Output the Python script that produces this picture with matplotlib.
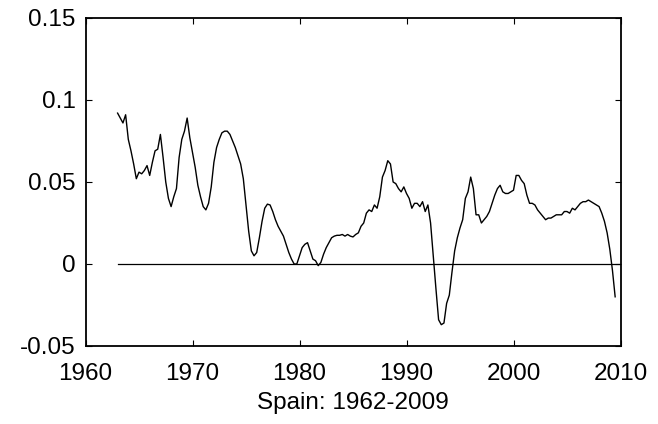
import numpy as np
import matplotlib
matplotlib.use('Agg')
import matplotlib.pyplot as plt

plt.rcParams['font.family'] = ['Liberation Sans', 'DejaVu Sans']

# quarterly readings, 1963Q1 .. 2009Q3
start_year = 1963.0
growth = [
    0.092, 0.089, 0.086, 0.091, 0.076, 0.069, 0.061, 0.052,   # 1963-64
    0.056, 0.055, 0.057, 0.060, 0.054, 0.062, 0.069, 0.070,   # 1965-66
    0.079, 0.065, 0.050, 0.040, 0.035, 0.041, 0.046, 0.065,   # 1967-68
    0.076, 0.081, 0.089, 0.077, 0.068, 0.059, 0.048, 0.041,   # 1969-70
    0.035, 0.033, 0.037, 0.047, 0.062, 0.071, 0.076, 0.080,   # 1971-72
    0.081, 0.081, 0.079, 0.075, 0.071, 0.066, 0.061, 0.052,   # 1973-74
    0.036, 0.020, 0.008, 0.005, 0.007, 0.016, 0.026, 0.034,   # 1975-76
    0.0365, 0.036, 0.032, 0.027, 0.023, 0.020, 0.017, 0.012,  # 1977-78
    0.007, 0.003, 0.000, 0.000, 0.005, 0.010, 0.012, 0.013,   # 1979-80
    0.008, 0.003, 0.002, -0.001, 0.001, 0.006, 0.010, 0.013,  # 1981-82
    0.016, 0.017, 0.0175, 0.0175, 0.018, 0.017, 0.018, 0.017, # 1983-84
    0.0165, 0.018, 0.019, 0.023, 0.025, 0.031, 0.033, 0.032, # 1985-86
    0.036, 0.034, 0.041, 0.053, 0.057, 0.063, 0.061, 0.050,   # 1987-88
    0.049, 0.046, 0.044, 0.047, 0.043, 0.040, 0.034, 0.037,   # 1989-90
    0.037, 0.035, 0.038, 0.032, 0.036, 0.025, 0.005, -0.015,  # 1991-92
    -0.034, -0.037, -0.036, -0.024, -0.019, -0.005, 0.008, 0.016,  # 1993-94
    0.022, 0.027, 0.040, 0.044, 0.053, 0.046, 0.030, 0.030,   # 1995-96
    0.025, 0.027, 0.029, 0.032, 0.037, 0.042, 0.046, 0.048,   # 1997-98
    0.044, 0.043, 0.043, 0.044, 0.045, 0.054, 0.054, 0.051,   # 1999-2000
    0.049, 0.042, 0.037, 0.037, 0.036, 0.033, 0.031, 0.029,   # 2001-02
    0.027, 0.028, 0.028, 0.029, 0.030, 0.030, 0.030, 0.032,   # 2003-04
    0.032, 0.031, 0.034, 0.033, 0.035, 0.037, 0.038, 0.038,   # 2005-06
    0.039, 0.038, 0.037, 0.036, 0.035, 0.031, 0.026, 0.019,   # 2007-08
    0.009, -0.004, -0.020,                                    # 2009
]
years = start_year + 0.25 * np.arange(len(growth))

fig = plt.figure(figsize=(6.58, 4.24), dpi=100)
ax = fig.add_axes([85.5/658, 78/424, 535/658, 328/424])

ax.plot([years[0], 2010], [0, 0], color='black', lw=0.9)
ax.plot(years, growth, color='black', lw=1.0)

ax.set_xlim(1960, 2010)
ax.set_ylim(-0.05, 0.15)
ax.set_xticks([1960, 1970, 1980, 1990, 2000, 2010])
ax.set_yticks([-0.05, 0, 0.05, 0.1, 0.15])
ax.set_yticklabels(['-0.05', '0', '0.05', '0.1', '0.15'])
ax.tick_params(direction='in', length=4, width=0.8, labelsize=17.5,
               top=True, right=True)
ax.tick_params(axis='x', pad=12)
ax.tick_params(axis='y', pad=7)
for s in ax.spines.values():
    s.set_linewidth(1.3)
ax.set_xlabel('Spain: 1962-2009', fontsize=17.5, labelpad=5)

fig.savefig('out.png', dpi=100)
